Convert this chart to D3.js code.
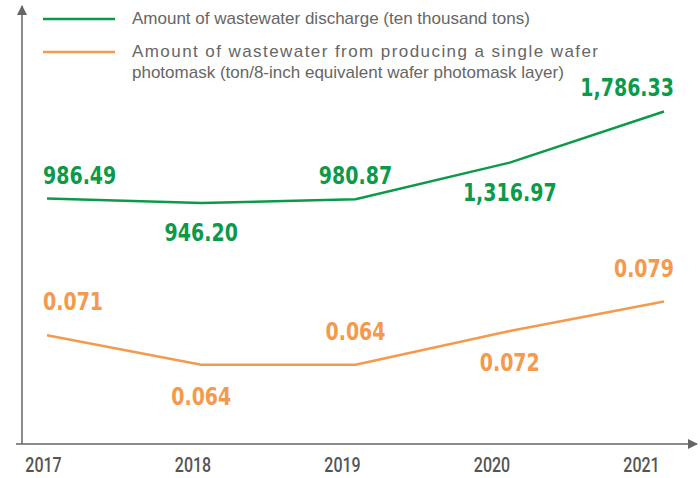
<!DOCTYPE html>
<html>
<head>
<meta charset="utf-8">
<script src="https://cdn.jsdelivr.net/npm/d3@7"></script>
<style>
  html, body { margin: 0; padding: 0; background: #fff; }
  svg { display: block; }
</style>
</head>
<body>
<svg id="chart" width="700" height="478"></svg>
<script>
// Wastewater data by year
const years = ["2017", "2018", "2019", "2020", "2021"];
const dischargeValues = [986.49, 946.20, 980.87, 1316.97, 1786.33];
const perWaferValues = [0.071, 0.064, 0.064, 0.072, 0.079];
const dischargeLabels = ["986.49", "946.20", "980.87", "1,316.97", "1,786.33"];
const perWaferLabels = ["0.071", "0.064", "0.064", "0.072", "0.079"];
const legendLines = [
  ["Amount of wastewater discharge (ten thousand tons)"],
  ["Amount of wastewater from producing a single wafer",
   "photomask (ton/8-inch equivalent wafer photomask layer)"]
];

const GREEN = "#0b9a4a";
const ORANGE = "#f39a4d";
const AXIS = "#666666";
const NUM_FONT = "'DejaVu Sans', sans-serif";
const NUM_SQUEEZE = 0.76;   // horizontal squeeze for a condensed look

const svg = d3.select("#chart");

// Scales
const x = d3.scalePoint().domain(years).range([47, 664]);
const xTick = d3.scalePoint().domain(years).range([43, 641]);
const yGreen = d3.scaleLinear().domain([900, 1800]).range([208, 110]);
const yOrange = d3.scaleLinear().domain([0.06, 0.08]).range([381.5, 297.3]);

// Arrow marker for axes
svg.append("defs").append("marker")
  .attr("id", "arrow")
  .attr("viewBox", "0 0 10 10")
  .attr("refX", 9).attr("refY", 5)
  .attr("markerWidth", 10).attr("markerHeight", 10)
  .attr("markerUnits", "userSpaceOnUse")
  .attr("orient", "auto")
  .append("path").attr("d", "M0,0 L10,5 L0,10 Z").attr("fill", AXIS);

// Axes
svg.append("line").attr("x1", 22).attr("y1", 444).attr("x2", 22).attr("y2", 6)
  .attr("stroke", AXIS).attr("stroke-width", 1.5).attr("marker-end", "url(#arrow)");
svg.append("line").attr("x1", 16).attr("y1", 444).attr("x2", 697).attr("y2", 444)
  .attr("stroke", AXIS).attr("stroke-width", 1.5).attr("marker-end", "url(#arrow)");

// Year labels
const xAxis = d3.axisBottom(xTick).tickSize(0).tickPadding(0);
const xg = svg.append("g").attr("transform", "translate(0,472)").call(xAxis);
xg.select(".domain").remove();
xg.selectAll("text")
  .attr("dy", null)
  .attr("y", 0)
  .attr("transform", "scale(0.8,1)")
  .attr("fill", "#555")
  .style("font-family", "Roboto, sans-serif")
  .style("font-weight", "500")
  .style("font-size", "20px");

// Lines with value labels
function drawSeries(values, labels, yScale, color, offAbove, offBelow) {
  const line = d3.line().x((d, i) => x(years[i])).y(d => yScale(d));
  svg.append("path").datum(values)
    .attr("d", line)
    .attr("fill", "none")
    .attr("stroke", color)
    .attr("stroke-width", 2.5)
    .attr("stroke-linejoin", "round");

  const n = values.length;
  const g = svg.append("g").selectAll("g").data(values).join("g")
    .attr("transform", (d, i) => {
      let px = x(years[i]);
      if (i === 0) px -= 4;
      if (i === n - 1) px += 10;
      const py = yScale(d) + (i % 2 === 0 ? offAbove : offBelow);
      return `translate(${px},${py}) scale(${NUM_SQUEEZE},1)`;
    });
  g.append("text")
    .attr("text-anchor", (d, i) => i === 0 ? "start" : (i === n - 1 ? "end" : "middle"))
    .attr("fill", color)
    .style("font-family", NUM_FONT)
    .style("font-weight", "bold")
    .style("font-size", "25px")
    .text((d, i) => labels[i]);
}

drawSeries(dischargeValues, dischargeLabels, yGreen, GREEN, -15, 38);
drawSeries(perWaferValues, perWaferLabels, yOrange, ORANGE, -25, 40);

// Legend
const legendColors = [GREEN, ORANGE];
const legendY = [19, 52];
const legend = svg.append("g");
legendLines.forEach((lines, k) => {
  legend.append("line")
    .attr("x1", 43).attr("x2", 115)
    .attr("y1", legendY[k]).attr("y2", legendY[k])
    .attr("stroke", legendColors[k]).attr("stroke-width", 2.5);
  lines.forEach((t, j) => {
    const txt = legend.append("text")
      .attr("x", 132)
      .attr("y", legendY[k] + 5 + j * 21)
      .attr("fill", "#666")
      .style("font-family", "'Liberation Sans', Arial, sans-serif")
      .style("font-size", "17px")
      .text(t);
    if (lines.length > 1 && j < lines.length - 1) {
      txt.attr("textLength", 466).attr("lengthAdjust", "spacing");
    }
  });
});
</script>
</body>
</html>
